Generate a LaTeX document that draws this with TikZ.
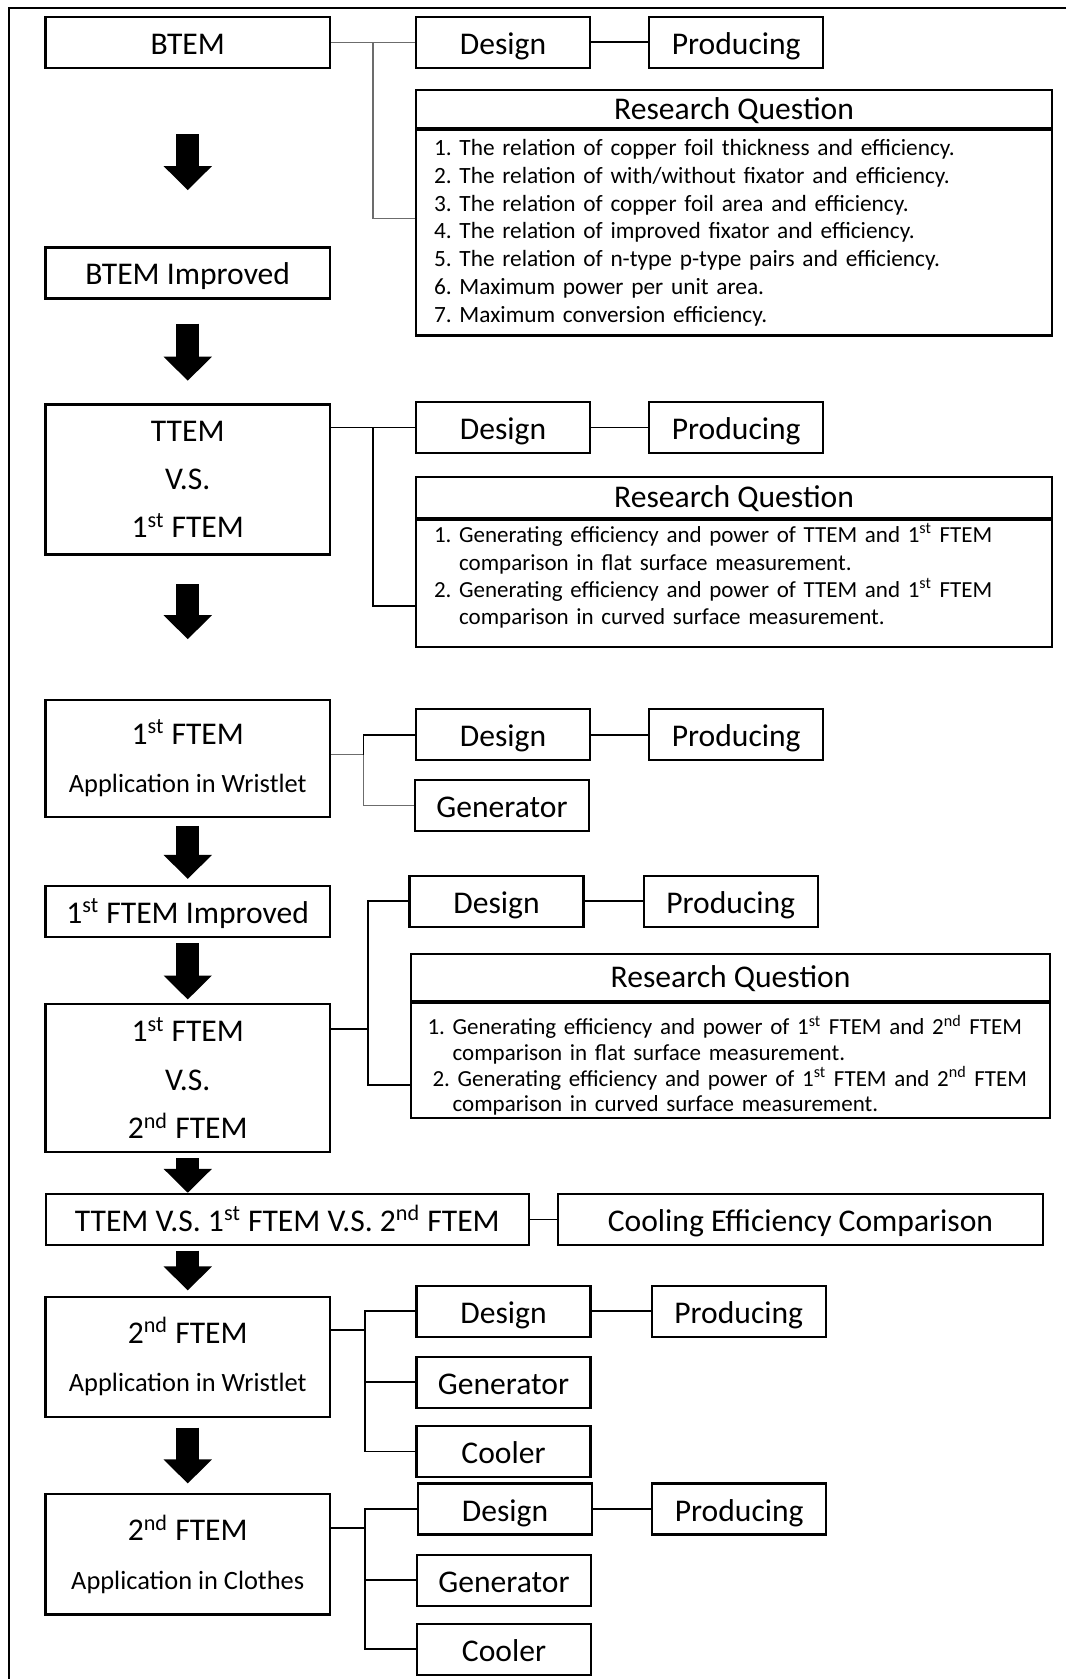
\documentclass[tikz,border=0pt]{standalone}
\usepackage{fontspec}
\setmainfont{Carlito}
\usetikzlibrary{positioning, calc, arrows.meta}
\frenchspacing

\begin{document}
\begin{tikzpicture}[x=0.5pt, y=-0.5pt,
    box/.style={draw, 
      line width=1.1pt, 
      minimum width=#1, 
      minimum height=25.5pt, 
      inner sep=0pt, 
      align=center, 
      text height=12pt, 
      text depth=0pt, 
      font=\fontsize{15.8}{24.15}\selectfont},
    box/.default=142.25pt,
    multi/.style={text height=, text depth=},
    rqhead/.style={draw, 
      line width=1.1pt, 
      minimum width=#1, 
      inner sep=0pt, 
      text height=10.2pt, 
      text depth=0pt, 
      font=\fontsize{15.8}{19}\selectfont},
    rqhead/.default=318pt,
    rqbody/.style={draw, 
      line width=1.1pt, 
      text width=300pt, 
      inner xsep=9pt, 
      inner ysep=0pt, 
      align=left, 
      font=\fontsize{11.5}{13.9}\selectfont},
    link/.style={line width=0.9pt},
    thinlink/.style={line width=0.6pt, gray!85!black},
    flow/.style={line width=11.5pt, -{Triangle[length=12pt, width=23.5pt]}}]

  \useasboundingbox (0,0) rectangle (1066,1679);
  \draw[line width=1pt] (1066,8) -- (9,8) -- (9,1679);

  % BTEM
  \node[box] (btem) at (187.75,42.3) {BTEM};
  \node[box=87pt] (design1) at (503,42.3) {Design};
  \node[box=87pt, right=28.5pt of design1] (prod1) {Producing};
  \node[rqhead, minimum height=18.7pt] (rq1head) at (734,109) {Research Question};
  \node[rqbody, minimum height=102.8pt, font=\fontsize{11.65}{13.9}\selectfont, below=0pt of rq1head] (rq1body) {
    1. The relation of copper foil thickness and efficiency.\\
    2. The relation of with/without fixator and efficiency.\\
    3. The relation of copper foil area and efficiency.\\
    4. The relation of improved fixator and efficiency.\\
    5. The relation of n-type p-type pairs and efficiency.\\
    6. Maximum power per unit area.\\
    7. Maximum conversion efficiency.
  };

  \node[box] (btemimp) at (187.75,273) {BTEM Improved};

  % TTEM VS 1ST FTEM
  \node[box, multi, minimum height=75pt] (ttem) at (187.75,479.5) {TTEM\\V.S.\\1\textsuperscript{st} FTEM};
  \node[box=87pt] (design2) at (503,427.5) {Design};
  \node[box=87pt, right=28.5pt of design2] (prod2) {Producing};
  \node[rqhead, minimum height=20.65pt] (rq2head) at (734,497.35) {Research Question};
  \node[rqbody, minimum height=63.5pt, font=\fontsize{11.5}{13.7}\selectfont, below=0pt of rq2head] (rq2body) {
    1. Generating efficiency and power of TTEM and 1\textsuperscript{st} FTEM\\
    \hphantom{1. }comparison in flat surface measurement.\\
    2. Generating efficiency and power of TTEM and 1\textsuperscript{st} FTEM\\
    \hphantom{2. }comparison in curved surface measurement.
    \par\vspace{7.5pt}\nointerlineskip\hbox{}
  };

  % 1ST FTEM WRISTLET
  \node[box, multi, minimum height=58.2pt] (app1) at (187.75,758.5) {1\textsuperscript{st} FTEM\\{\fontsize{13.2}{24.15}\selectfont Application in Wristlet}};
  \node[box=87pt] (design4) at (503,734.8) {Design};
  \node[box=87pt, right=28.5pt of design4] (prod4) {Producing};
  \node[box=87pt] (gen4) at (502,805.8) {Generator};

  \node[box] (ftemimp) at (187.75,911.2) {1\textsuperscript{st} FTEM Improved};

  % 1ST FTEM VS 2ND FTEM
  \node[box, multi, minimum height=74pt] (vs2) at (187.75,1078) {1\textsuperscript{st} FTEM\\V.S.\\2\textsuperscript{nd} FTEM};
  \node[box=87pt] (design6) at (496.5,901.2) {Design};
  \node[box=87pt, right=29pt of design6] (prod6) {Producing};
  \node[rqhead=319.5pt, minimum height=23.5pt] (rq6head) at (730.5,977.5) {Research Question};
  \node[rqbody, text width=303pt, inner xsep=8.25pt, minimum height=57.35pt, font=\fontsize{11.5}{12.8}\selectfont, below=0pt of rq6head] (rq6body) {
    1. Generating efficiency and power of 1\textsuperscript{st} FTEM and 2\textsuperscript{nd} FTEM\\
    \hphantom{1. }comparison in flat surface measurement.\\
    \hspace*{2.5pt}2. Generating efficiency and power of 1\textsuperscript{st} FTEM and 2\textsuperscript{nd} FTEM\\
    \hphantom{1. }comparison in curved surface measurement.
    \par\vspace{-4.6pt}\nointerlineskip\hbox{}
  };

  % COOLING
  \node[box=241.7pt] (all3) at (287.3,1219.4) {TTEM V.S. 1\textsuperscript{st} FTEM V.S. 2\textsuperscript{nd} FTEM};
  \node[box=242.5pt, right=13.4pt of all3] (cooling) {Cooling Efficiency Comparison};

  % 2ND FTEM WRISTLET
  \node[box, multi, minimum height=60.2pt] (app2) at (187.75,1356.8) {2\textsuperscript{nd} FTEM\\{\fontsize{13.2}{24.15}\selectfont Application in Wristlet}};
  \node[box=87pt] (design8) at (503.5,1311.3) {Design};
  \node[box=87pt, right=29.5pt of design8] (prod8) {Producing};
  \node[box=87pt] (gen8) at (503.5,1382.2) {Generator};
  \node[box=87pt] (cooler8) at (503.5,1451.4) {Cooler};

  % 2ND FTEM CLOTHES
  \node[box, multi, minimum height=60.25pt] (app3) at (187.75,1554.2) {2\textsuperscript{nd} FTEM\\{\fontsize{13.2}{24.15}\selectfont Application in Clothes}};
  \node[box=87pt] (design9) at (505,1509) {Design};
  \node[box=87pt, right=29pt of design9] (prod9) {Producing};
  \node[box=87pt] (gen9) at (504,1580.2) {Generator};
  \node[box=87pt] (cooler9) at (504,1649.25) {Cooler};

  % BRANCHES
  \draw[thinlink] (btem) -- (design1);
  \draw[link] (design1) -- (prod1);
  \draw[thinlink] ($(btem.east)!0.5!(design1.west)$) |- ([yshift=6.9pt]rq1body.west);

  \draw[link] (ttem.east |- design2.west) -- (design2.west);
  \draw[link] (design2) -- (prod2);
  \draw[link] ($(ttem.east |- design2.west)!0.5!(design2.west)$) |- ([yshift=-11.25pt]rq2body.west);

  \draw[thinlink] ([yshift=2pt]app1.east) -- ++(16.15pt,0) coordinate (j4);
  \draw[link] (j4) |- (design4.west);
  \draw[thinlink] (j4) |- (gen4.west);
  \draw[link] (design4) -- (prod4);

  \draw[link] ([yshift=24.35pt]vs2.east) -- ++(18.5pt,0) coordinate (j6);
  \draw[link] (j6) |- (design6.west);
  \draw[link] (j6) |- ([yshift=-12.2pt]rq6body.west);
  \draw[link] (design6) -- (prod6);

  \draw[link] (all3) -- (cooling);

  \draw[link] ([yshift=13.4pt]app2.east) -- ++(17pt,0) coordinate (j8);
  \draw[link] (j8) |- (design8.west);
  \draw[link] (j8) |- (gen8.west);
  \draw[link] (j8) |- (cooler8.west);
  \draw[link] (design8) -- (prod8);

  \draw[link] ([yshift=13.1pt]app3.east) -- ++(17pt,0) coordinate (j9);
  \draw[link] (j9) |- (design9.west);
  \draw[link] (j9) |- (gen9.west);
  \draw[link] (j9) |- (cooler9.west);
  \draw[link] (design9) -- (prod9);

  % ARROWS
  \draw[flow, shorten <=32.65pt, shorten >=28.15pt] (btem.south) -- (btemimp.north);
  \draw[flow, shorten <=12pt, shorten >=11.35pt] (btemimp.south) -- (ttem.north);
  \draw[flow, shorten <=14.3pt, shorten >=30pt] (ttem.south) -- (app1.north);
  \draw[flow, shorten <=4pt, shorten >=2.85pt] (app1.south) -- (ftemimp.north);
  \draw[flow, shorten <=2.65pt, shorten >=1.7pt] (ftemimp.south) -- (vs2.north);
  \draw[flow, shorten <=2.5pt] (vs2.south) -- (vs2.south |- all3.north);
  \draw[flow, shorten <=2.25pt, shorten >=2.55pt] (app2.north |- all3.south) -- (app2.north);
  \draw[flow, shorten <=4.75pt, shorten >=4.7pt] (app2.south) -- (app3.north);

\end{tikzpicture}
\end{document}
